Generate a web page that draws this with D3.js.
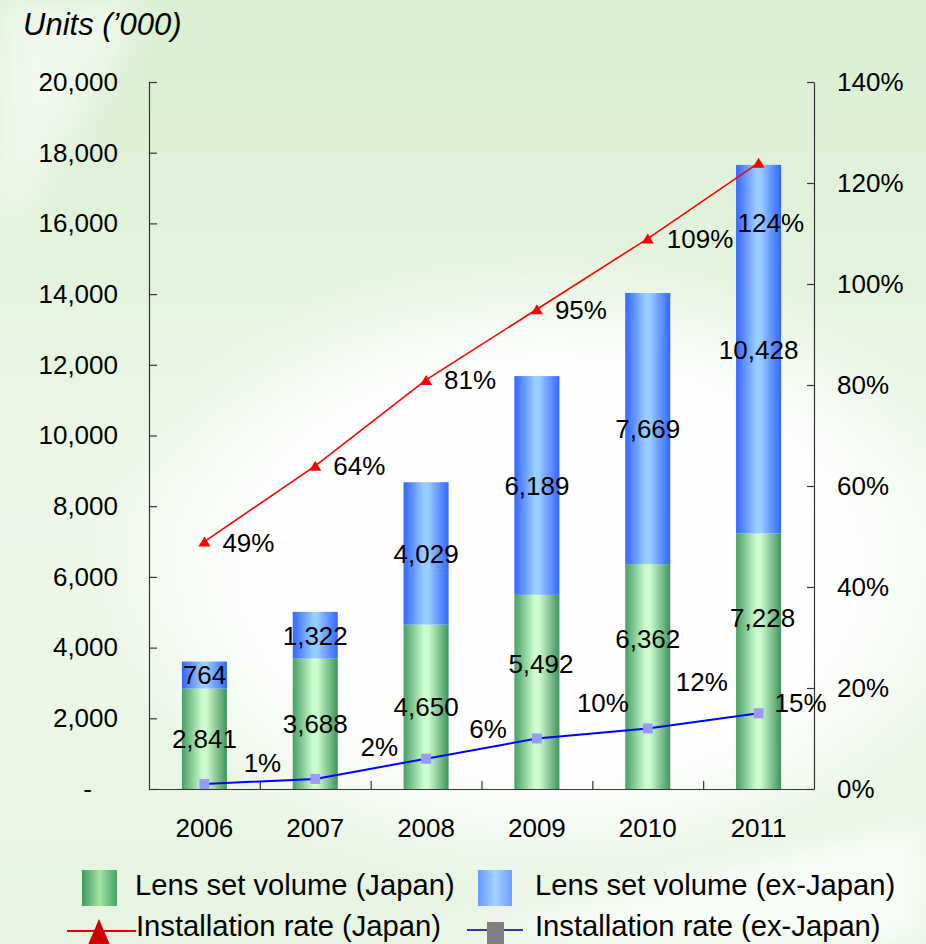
<!DOCTYPE html>
<html>
<head>
<meta charset="utf-8">
<script src="https://cdn.jsdelivr.net/npm/d3@7"></script>
<style>
  html, body { margin: 0; padding: 0; background: #fff; }
  svg { display: block; }
  text { font-family: "Liberation Sans", Arial, Helvetica, sans-serif; fill: #000; }
</style>
</head>
<body>
<svg id="chart" width="926" height="944"></svg>
<script>
// ---- data ----
const years = ["2006", "2007", "2008", "2009", "2010", "2011"];
const japanVolume = [2841, 3688, 4650, 5492, 6362, 7228];
const exJapanVolume = [764, 1322, 4029, 6189, 7669, 10428];
const japanRate = [49, 64, 81, 95, 109, 124];
const exJapanRate = [1, 2, 6, 10, 12, 15];
const leftTicks = [0, 2000, 4000, 6000, 8000, 10000, 12000, 14000, 16000, 18000, 20000];
const rightTicks = [0, 20, 40, 60, 80, 100, 120, 140];
const yTitle = "Units (\u2019000)";
const legendLabels = ["Lens set volume (Japan)", "Lens set volume (ex-Japan)",
                      "Installation rate (Japan)", "Installation rate (ex-Japan)"];

// ---- layout (label nudges, px) ----
const greenLabelNudge = [[0, 0], [0, 0], [0, 0], [4, -28], [0, -38], [4, -44]];
const redLabelNudge = [[18, 1], [18, 0], [18, 0], [18, 0], [19, 0], [-21, 60]];
const blueLabelNudge = [[58, -21], [64, -32], [62, -30], [66, -36], [54, -47], [42, -11]];

const svg = d3.select("#chart");
const W = 926, H = 944;
const L = 149, R = 814, T = 82, B = 789;

// ---- background ----
const defs = svg.append("defs");
const vg = defs.append("linearGradient").attr("id", "bgTop").attr("x1", 0).attr("y1", 0).attr("x2", 0).attr("y2", 1);
vg.append("stop").attr("offset", 0).attr("stop-color", "#d9efd0");
vg.append("stop").attr("offset", 0.3).attr("stop-color", "#e4f3de");
vg.append("stop").attr("offset", 0.55).attr("stop-color", "#eef8ea");
vg.append("stop").attr("offset", 1).attr("stop-color", "#e6f4e1");
const rg = defs.append("radialGradient").attr("id", "bgWhite");
rg.append("stop").attr("offset", 0).attr("stop-color", "#ffffff").attr("stop-opacity", 1);
rg.append("stop").attr("offset", 0.65).attr("stop-color", "#ffffff").attr("stop-opacity", 0.95);
rg.append("stop").attr("offset", 1).attr("stop-color", "#ffffff").attr("stop-opacity", 0);
const blur = defs.append("filter").attr("id", "soft").attr("x", "-50%").attr("y", "-50%").attr("width", "200%").attr("height", "200%");
blur.append("feGaussianBlur").attr("stdDeviation", 18);

svg.append("rect").attr("width", W).attr("height", H).attr("fill", "url(#bgTop)");
svg.append("ellipse").attr("cx", 550).attr("cy", 570).attr("rx", 460).attr("ry", 320).attr("fill", "url(#bgWhite)");
svg.append("path").attr("d", "M0,0 L150,0 L0,230 Z").attr("fill", "#ffffff").attr("opacity", 0.6).attr("filter", "url(#soft)");
svg.append("path").attr("d", "M420,944 C560,900 760,860 926,820 L926,944 Z").attr("fill", "#ffffff").attr("opacity", 0.75).attr("filter", "url(#soft)");

// ---- gradients for bars ----
function hGrad(id, stops) {
  const g = defs.append("linearGradient").attr("id", id).attr("x1", 0).attr("y1", 0).attr("x2", 1).attr("y2", 0);
  stops.forEach(s => g.append("stop").attr("offset", s[0]).attr("stop-color", s[1]));
}
hGrad("gGreen", [[0, "#46a065"], [0.45, "#ccfccc"], [0.55, "#ccfccc"], [1, "#3f935e"]]);
hGrad("gBlue", [[0, "#3366ff"], [0.45, "#99ccff"], [0.55, "#99ccff"], [1, "#3366ff"]]);
hGrad("gGreenLeg", [[0, "#3f9a60"], [0.5, "#a2e6a2"], [1, "#4aa068"]]);
hGrad("gBlueLeg", [[0, "#6699ff"], [0.5, "#a8d2ff"], [1, "#6c9fff"]]);

// ---- scales ----
const x = d3.scaleBand().domain(years).range([L, R]).paddingInner(0.594).paddingOuter(0.297);
const y = d3.scaleLinear().domain([0, 20000]).range([B, T]);
const yR = d3.scaleLinear().domain([0, 140]).range([B, T]);
const cx = d => x(d) + x.bandwidth() / 2;

// ---- bars ----
const g = svg.append("g");
g.selectAll("rect.jp").data(years).join("rect")
  .attr("x", d => x(d)).attr("width", x.bandwidth())
  .attr("y", (d, i) => y(japanVolume[i])).attr("height", (d, i) => y(0) - y(japanVolume[i]))
  .attr("fill", "url(#gGreen)");
g.selectAll("rect.ex").data(years).join("rect")
  .attr("x", d => x(d)).attr("width", x.bandwidth())
  .attr("y", (d, i) => y(japanVolume[i] + exJapanVolume[i]))
  .attr("height", (d, i) => y(japanVolume[i]) - y(japanVolume[i] + exJapanVolume[i]))
  .attr("fill", "url(#gBlue)");

// ---- axes ----
const fmt = d3.format(",");
const axL = svg.append("g").attr("transform", `translate(${L},0)`)
  .call(d3.axisLeft(y).tickValues(leftTicks).tickSizeInner(-8).tickSizeOuter(0).tickPadding(31)
    .tickFormat(d => d === 0 ? "-" : fmt(d)));
const axR = svg.append("g").attr("transform", `translate(${R},0)`)
  .call(d3.axisRight(yR).tickValues(rightTicks).tickSizeInner(-7).tickSizeOuter(0).tickPadding(23)
    .tickFormat(d => d + "%"));
const xb = d3.scaleLinear().domain([0, years.length]).range([L, R]);
svg.append("g").attr("transform", `translate(0,${B})`)
  .call(d3.axisBottom(xb).tickValues(d3.range(1, years.length)).tickSizeInner(-8).tickSizeOuter(0).tickFormat(""));
const axB = svg.append("g").attr("transform", `translate(0,${B})`)
  .call(d3.axisBottom(x).tickSize(0).tickPadding(30));
axB.select(".domain").remove();
[axL, axR, axB].forEach(a => a.selectAll("text").attr("font-size", 26).attr("font-family", null).attr("fill", "#000"));
axL.selectAll(".tick").filter(d => d === 0).select("text").attr("x", -57);
svg.selectAll(".domain").attr("stroke", "#333").attr("stroke-width", 1.2);
svg.selectAll(".tick line").attr("stroke", "#333").attr("stroke-width", 1.2);

// ---- bar labels ----
g.selectAll("text.jp").data(years).join("text")
  .attr("text-anchor", "middle").attr("font-size", 26).attr("dy", "0.36em")
  .attr("x", (d, i) => cx(d) + greenLabelNudge[i][0])
  .attr("y", (d, i) => (y(0) + y(japanVolume[i])) / 2 + greenLabelNudge[i][1])
  .text((d, i) => fmt(japanVolume[i]));
g.selectAll("text.ex").data(years).join("text")
  .attr("text-anchor", "middle").attr("font-size", 26).attr("dy", "0.36em")
  .attr("x", d => cx(d))
  .attr("y", (d, i) => (y(japanVolume[i]) + y(japanVolume[i] + exJapanVolume[i])) / 2)
  .text((d, i) => fmt(exJapanVolume[i]));

// ---- lines ----
const rateLine = d3.line().x((d, i) => cx(years[i])).y(d => yR(d));
svg.append("path").datum(japanRate).attr("d", rateLine).attr("fill", "none").attr("stroke", "#ff0000").attr("stroke-width", 1.6);
svg.append("path").datum(exJapanRate).attr("d", rateLine).attr("fill", "none").attr("stroke", "#0000ff").attr("stroke-width", 2);

const tri = (w, h) => `M0,${-h / 2} L${w / 2},${h / 2} L${-w / 2},${h / 2} Z`;
svg.selectAll("path.tri").data(japanRate).join("path")
  .attr("d", tri(12, 10)).attr("fill", "#ff0000")
  .attr("transform", (d, i) => `translate(${cx(years[i])},${yR(d)})`);
svg.selectAll("rect.sq").data(exJapanRate).join("rect")
  .attr("width", 10).attr("height", 10).attr("fill", "#9999ff")
  .attr("x", (d, i) => cx(years[i]) - 5).attr("y", d => yR(d) - 5);

svg.selectAll("text.rl").data(japanRate).join("text")
  .attr("font-size", 26).attr("dy", "0.36em")
  .attr("x", (d, i) => cx(years[i]) + redLabelNudge[i][0])
  .attr("y", (d, i) => yR(d) + redLabelNudge[i][1])
  .text(d => d + "%");
svg.selectAll("text.bl").data(exJapanRate).join("text")
  .attr("font-size", 26).attr("dy", "0.36em").attr("text-anchor", "middle")
  .attr("x", (d, i) => cx(years[i]) + blueLabelNudge[i][0])
  .attr("y", (d, i) => yR(d) + blueLabelNudge[i][1])
  .text(d => d + "%");

// ---- title ----
svg.append("text").attr("x", 23).attr("y", 35).attr("font-size", 31).attr("font-style", "italic").text(yTitle);

// ---- legend ----
const lg = svg.append("g");
lg.append("rect").attr("x", 82).attr("y", 870).attr("width", 35).attr("height", 36).attr("fill", "url(#gGreenLeg)");
lg.append("rect").attr("x", 478).attr("y", 870).attr("width", 34).attr("height", 36).attr("fill", "url(#gBlueLeg)");
lg.append("line").attr("x1", 67).attr("x2", 136).attr("y1", 931).attr("y2", 931).attr("stroke", "#dd0000").attr("stroke-width", 2);
lg.append("path").attr("d", tri(22, 26)).attr("fill", "#cc0000").attr("transform", "translate(99,932)");
lg.append("line").attr("x1", 467).attr("x2", 523).attr("y1", 930).attr("y2", 930).attr("stroke", "#3333aa").attr("stroke-width", 2);
lg.append("rect").attr("x", 487).attr("y", 922).attr("width", 17).attr("height", 24).attr("fill", "#808080");
const legPos = [[135, 895], [535, 895], [136, 936], [535, 936]];
lg.selectAll("text").data(legendLabels).join("text")
  .attr("font-size", 29.2)
  .attr("x", (d, i) => legPos[i][0]).attr("y", (d, i) => legPos[i][1])
  .text(d => d);
</script>
</body>
</html>
